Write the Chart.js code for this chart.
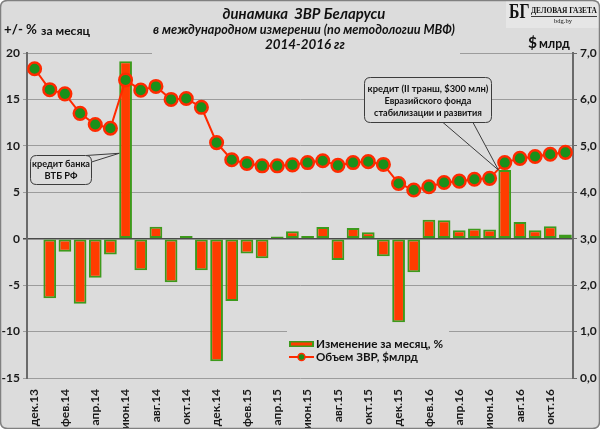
<!DOCTYPE html>
<html>
<head>
<meta charset="utf-8">
<script src="https://cdn.jsdelivr.net/npm/chart.js@4.4.1/dist/chart.umd.min.js"></script>
<style>
  html, body { margin: 0; padding: 0; background: #fff; }
  #zvr { display: block; }
</style>
</head>
<body>
<canvas id="zvr" width="600" height="429"></canvas>
<script>
// месяцы дек.13 - ноя.16
const months = [
  "дек.13", "янв.14", "фев.14", "мар.14", "апр.14", "май.14", "июн.14", "июл.14", "авг.14", "сен.14", "окт.14", "ноя.14",
  "дек.14", "янв.15", "фев.15", "мар.15", "апр.15", "май.15", "июн.15", "июл.15", "авг.15", "сен.15", "окт.15", "ноя.15",
  "дек.15", "янв.16", "фев.16", "мар.16", "апр.16", "май.16", "июн.16", "июл.16", "авг.16", "сен.16", "окт.16", "ноя.16"
];

// изменение за месяц, %
const monthlyChange = [
  null, -6.4, -1.4, -7.0, -4.2, -1.7, 19.1, -3.4, 1.3, -4.7, 0.3, -3.4,
  -13.2, -6.7, -1.6, -2.1, 0.25, 0.8, 0.3, 1.25, -2.3, 1.15, 0.7, -1.9,
  -9.0, -3.6, 2.05, 2.0, 0.9, 1.1, 1.0, 7.4, 1.8, 0.9, 1.35, 0.45
];

// объем ЗВР, $ млрд
const reserves = [
  6.66, 6.21, 6.12, 5.70, 5.46, 5.38, 6.42, 6.20, 6.28, 6.00, 6.02, 5.83,
  5.07, 4.70, 4.62, 4.57, 4.57, 4.59, 4.64, 4.68, 4.58, 4.64, 4.66, 4.60,
  4.19, 4.05, 4.12, 4.21, 4.24, 4.28, 4.30, 4.64, 4.73, 4.77, 4.82, 4.86
];

const pctAxis = { min: -15, max: 20, step: 5 };
const bnAxis = { min: 0, max: 7, step: 1 };

const BG = "#dcdcdc";
const FONT = "Lato, 'Open Sans', sans-serif";

Chart.defaults.font.family = FONT;
Chart.defaults.color = "#1a1a1a";

function roundRect(c, x, y, w, h, r) {
  c.beginPath();
  c.moveTo(x + r, y);
  c.lineTo(x + w - r, y);
  c.quadraticCurveTo(x + w, y, x + w, y + r);
  c.lineTo(x + w, y + h - r);
  c.quadraticCurveTo(x + w, y + h, x + w - r, y + h);
  c.lineTo(x + r, y + h);
  c.quadraticCurveTo(x, y + h, x, y + h - r);
  c.lineTo(x, y + r);
  c.quadraticCurveTo(x, y, x + r, y);
  c.closePath();
}

// подбираем размер шрифта под нужную ширину текста
function fitFont(c, text, style, family, targetW, base) {
  c.font = style + " " + base + "px " + family;
  const w = c.measureText(text).width;
  const size = base * targetW / w;
  c.font = style + " " + size.toFixed(2) + "px " + family;
}

function callout(c, box, lines, pointer, target) {
  c.save();
  // хвостик
  c.beginPath();
  c.moveTo(pointer[0][0], pointer[0][1]);
  c.lineTo(target.x, target.y);
  c.lineTo(pointer[1][0], pointer[1][1]);
  c.closePath();
  c.fillStyle = BG;
  c.fill();
  c.strokeStyle = "#3c3c3c";
  c.lineWidth = 1;
  c.beginPath();
  c.moveTo(pointer[0][0], pointer[0][1]);
  c.lineTo(target.x, target.y);
  c.lineTo(pointer[1][0], pointer[1][1]);
  c.stroke();
  roundRect(c, box.x, box.y, box.w, box.h, 6);
  c.fillStyle = BG;
  c.fill();
  c.stroke();
  c.fillStyle = "#111";
  c.textAlign = "center";
  c.textBaseline = "middle";
  lines.forEach(l => {
    fitFont(c, l.text, "bold", FONT, l.w, 11);
    c.fillText(l.text, box.x + box.w / 2, l.y);
  });
  c.restore();
}

const decor = {
  id: "decor",
  beforeDraw(chart) {
    const c = chart.ctx;
    c.save();
    roundRect(c, 0.5, 0.5, chart.width - 1, chart.height - 1, 7);
    c.fillStyle = BG;
    c.fill();
    c.restore();
  },
  afterDatasetsDraw(chart) {
    const c = chart.ctx;
    const xs = chart.scales.x, ys = chart.scales.y;
    const bar = chart.data.datasets[0], line = chart.data.datasets[1];
    c.save();

    // заголовок
    c.fillStyle = BG;
    c.fillRect(152, 2, 308, 58);
    c.fillStyle = "#111";
    c.textAlign = "center";
    c.textBaseline = "middle";
    fitFont(c, "динамика  ЗВР Беларуси", "italic bold", FONT, 163, 15);
    c.fillText("динамика  ЗВР Беларуси", 304, 14);
    fitFont(c, "в международном измерении (по методологии МВФ)", "italic bold", FONT, 302, 12);
    c.fillText("в международном измерении (по методологии МВФ)", 304, 30);
    fitFont(c, "2014-2016 гг", "italic bold", FONT, 80, 13);
    c.fillText("2014-2016 гг", 305, 45);

    // подписи осей
    c.textAlign = "left";
    fitFont(c, "+/- %", "bold", FONT, 33, 15);
    c.fillText("+/- %", 4, 30);
    fitFont(c, "за месяц", "bold", FONT, 49, 12);
    c.fillText("за месяц", 41, 31);
    c.fillStyle = BG;
    c.fillRect(520, 32, 55, 20);
    c.fillStyle = "#111";
    fitFont(c, "$", "bold", FONT, 9, 16);
    c.fillText("$", 528, 43);
    fitFont(c, "млрд", "bold", FONT, 31, 12);
    c.fillText("млрд", 539, 44);

    // логотип
    c.fillStyle = "#e6e6e6";
    c.fillRect(506, 1, 93, 27);
    c.fillStyle = "#111";
    c.save();
    c.translate(509, 18);
    c.scale(0.72, 1);
    c.font = "bold 22px 'Liberation Serif', serif";
    c.textBaseline = "alphabetic";
    c.fillText("БГ", 0, 0);
    c.restore();
    fitFont(c, "ДЕЛОВАЯ ГАЗЕТА", "bold", "'Liberation Serif', serif", 66, 9);
    c.fillText("ДЕЛОВАЯ ГАЗЕТА", 531, 11);
    c.fillRect(531, 16, 66, 0.8);
    c.font = "6.5px 'Liberation Serif', serif";
    c.textAlign = "center";
    c.fillText("bdg.by", 563, 21);

    // выноски
    const half = 6.3;
    const t1 = { x: xs.getPixelForValue(6) - half, y: ys.getPixelForValue(9.2) };
    callout(c, { x: 30.5, y: 155.5, w: 61, h: 29 },
      [{ text: "кредит банка", w: 58, y: 164 }, { text: "ВТБ РФ", w: 33, y: 176 }],
      [[86, 155.5], [91.5, 162]], t1);
    const t2 = { x: xs.getPixelForValue(31) - half, y: ys.getPixelForValue(monthlyChange[31]) };
    callout(c, { x: 364.5, y: 77.5, w: 127, h: 45 },
      [{ text: "кредит (II транш, $300 млн)", w: 121, y: 89 },
       { text: "Евразийского фонда", w: 87, y: 101 },
       { text: "стабилизации и развития", w: 108, y: 113 }],
      [[443, 122.5], [473, 122.5]], t2);

    // легенда
    c.fillStyle = BG;
    c.fillRect(287, 331, 162, 46);
    c.fillStyle = bar.borderColor;
    c.fillRect(289, 341, 25, 6);
    c.fillStyle = bar.backgroundColor;
    c.fillRect(291, 342.5, 21, 3);
    c.strokeStyle = line.borderColor;
    c.lineWidth = 2;
    c.beginPath();
    c.moveTo(289, 357);
    c.lineTo(314, 357);
    c.stroke();
    c.beginPath();
    c.arc(301.5, 357, 3.5, 0, Math.PI * 2);
    c.fillStyle = line.pointBackgroundColor;
    c.fill();
    c.lineWidth = 1.5;
    c.stroke();
    c.fillStyle = "#111";
    c.textAlign = "left";
    c.textBaseline = "middle";
    fitFont(c, "Изменение за месяц, %", "bold", FONT, 127, 12);
    c.fillText("Изменение за месяц, %", 316, 344);
    fitFont(c, "Объем ЗВР, $млрд", "bold", FONT, 102, 12);
    c.fillText("Объем ЗВР, $млрд", 316, 357);

    c.restore();
  },
  afterDraw(chart) {
    const c = chart.ctx;
    c.save();
    roundRect(c, 0.5, 0.5, chart.width - 1, chart.height - 1, 7);
    c.strokeStyle = "#808080";
    c.lineWidth = 1.5;
    c.stroke();
    c.restore();
  }
};

const ctx = document.getElementById("zvr");
const zvrChart = new Chart(ctx, {
  data: {
    labels: months,
    datasets: [
      {
        type: "bar",
        label: "Изменение за месяц, %",
        data: monthlyChange,
        yAxisID: "y",
        backgroundColor: "#ff3c00",
        borderColor: "#3d9a1c",
        borderWidth: 2,
        borderSkipped: false,
        categoryPercentage: 1,
        barPercentage: 0.84,
        order: 2
      },
      {
        type: "line",
        label: "Объем ЗВР, $млрд",
        data: reserves,
        yAxisID: "y1",
        borderColor: "#ff2a00",
        borderWidth: 2,
        pointRadius: 6.3,
        pointBorderWidth: 2.5,
        pointBackgroundColor: "#1a901a",
        pointBorderColor: "#ff2a00",
        tension: 0,
        order: 1
      }
    ]
  },
  options: {
    responsive: false,
    animation: false,
    layout: { padding: { top: 53, left: 0, right: 0, bottom: 0 } },
    plugins: {
      legend: { display: false },
      tooltip: { enabled: false }
    },
    scales: {
      x: {
        grid: { display: false },
        border: { display: false },
        ticks: {
          autoSkip: false,
          maxRotation: 90,
          minRotation: 90,
          padding: 3,
          font: { size: 12, weight: "bold" },
          callback: (v, i) => (i % 2 === 0 ? months[i] : "")
        },
        afterFit: s => { s.height = 51; }
      },
      y: {
        position: "left",
        min: pctAxis.min,
        max: pctAxis.max,
        ticks: { stepSize: pctAxis.step, padding: 3, font: { size: 12, weight: "bold" } },
        grid: {
          color: g => (g.tick && g.tick.value === 0 ? "#4a4a4a" : "#9c9c9c"),
          lineWidth: g => (g.tick && g.tick.value === 0 ? 1.5 : 1),
          tickLength: 4
        },
        border: { color: "#6a6a6a", width: 2 },
        afterFit: s => { s.width = 27; }
      },
      y1: {
        position: "right",
        min: bnAxis.min,
        max: bnAxis.max,
        ticks: {
          stepSize: bnAxis.step,
          padding: 3,
          font: { size: 12, weight: "bold" },
          callback: v => v.toFixed(1).replace(".", ",")
        },
        grid: { drawOnChartArea: false, color: "#6a6a6a", tickLength: 4 },
        border: { color: "#6a6a6a", width: 2 },
        afterFit: s => { s.width = 27; }
      }
    }
  },
  plugins: [decor]
});
</script>
</body>
</html>
